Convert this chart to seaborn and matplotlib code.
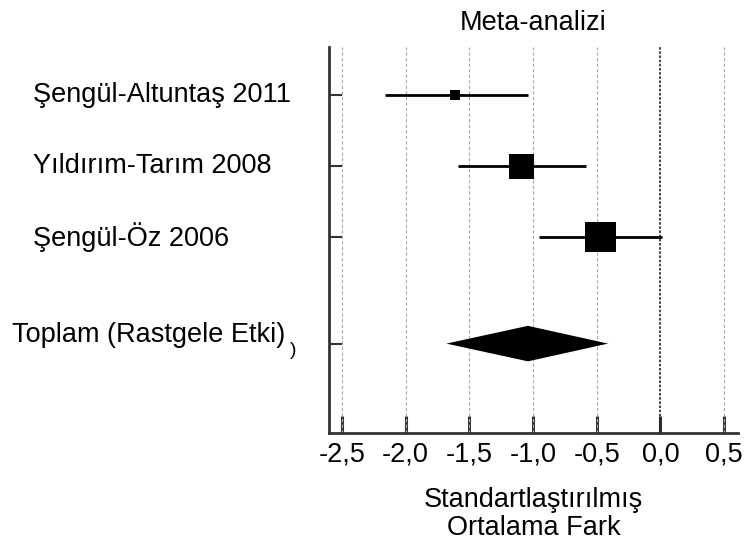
import matplotlib
matplotlib.use("Agg")
import matplotlib.pyplot as plt
import matplotlib.transforms as mtransforms
import seaborn as sns
import pandas as pd

studies = ["Şengül-Altuntaş 2011", "Yıldırım-Tarım 2008", "Şengül-Öz 2006"]
effect = [-1.61, -1.09, -0.47]
ci_low = [-2.16, -1.59, -0.95]
ci_high = [-1.04, -0.58, 0.01]
weight = [52, 324, 470]
total_label = "Toplam (Rastgele Etki)"
total_effect = -1.04
total_low = -1.68
total_high = -0.41
xticks = [-2.5, -2.0, -1.5, -1.0, -0.5, 0.0, 0.5]

sns.set_theme(style="white")
plt.rcParams['font.family'] = ['Liberation Sans', 'DejaVu Sans']
plt.rcParams['text.color'] = 'black'
plt.rcParams['xtick.color'] = 'black'
plt.rcParams['axes.labelcolor'] = 'black'

fs = 19.5

df = pd.DataFrame({"study": studies, "effect": effect, "lo": ci_low,
                   "hi": ci_high, "w": weight, "row": [1, 2, 3]})

fig = plt.figure(figsize=(7.45, 5.47), dpi=100)
ax = fig.add_axes([0.4416, 0.2084, 0.549, 0.7057])

for x in xticks:
    if x == 0.0:
        ax.axvline(x, color='#222222', lw=1.2, ls=(0, (1.5, 1)), zorder=1)
    else:
        ax.axvline(x, color='#aaaaaa', lw=0.8, ls=(0, (3, 2)), zorder=1)

ax.hlines(df['row'], df['lo'], df['hi'], color='black', lw=2, zorder=2)
sns.scatterplot(data=df, x='effect', y='row', size='w', sizes=(min(weight), max(weight)),
                size_norm=(min(weight), max(weight)), marker='s', color='black',
                edgecolor='none', legend=False, ax=ax, zorder=3)

ty = 4.5
ax.fill([total_low, total_effect, total_high, total_effect],
        [ty, ty - 0.25, ty, ty + 0.25], color='black', zorder=3, lw=0)

ax.set_xlim(-2.602, 0.61)
ax.set_ylim(5.76, 0.32)
ax.set_xticks(xticks)
ax.set_xticklabels([f"{v:.1f}".replace('.', ',') for v in xticks], fontsize=fs)
ax.set_yticks([1, 2, 3, ty])
ax.set_yticklabels([])
ax.tick_params(axis='x', direction='in', length=12, width=2.2, color='#333333', pad=6, bottom=True)
ax.tick_params(axis='y', direction='in', length=9, width=1.5, color='#333333', left=True)
for s in ['top', 'right']:
    ax.spines[s].set_visible(False)
for s in ['left', 'bottom']:
    ax.spines[s].set_color('#333333')
    ax.spines[s].set_linewidth(2)

trans = mtransforms.blended_transform_factory(fig.transFigure, ax.transData)
for lab, r in zip(studies, df['row']):
    ax.text(33 / 745, r, lab, transform=trans, ha='left', va='center', fontsize=fs)
ax.text(12 / 745, ty - 0.12, total_label, transform=trans, ha='left', va='center', fontsize=fs)
ax.text(290 / 745, ty + 0.1, ")", transform=trans, ha='left', va='center', fontsize=14)

ax.set_title("Meta-analizi", fontsize=fs, pad=12)
ax.set_xlabel("Standartlaştırılmış\nOrtalama Fark", fontsize=fs, labelpad=14, linespacing=1.1)
ax.set_ylabel("")

fig.savefig("out.png", dpi=100)
